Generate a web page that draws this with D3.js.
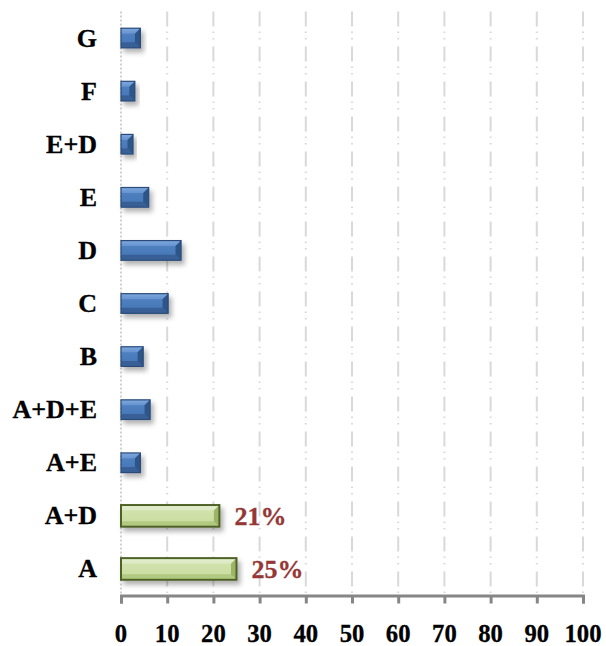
<!DOCTYPE html>
<html>
<head>
<meta charset="utf-8">
<script src="https://cdn.jsdelivr.net/npm/d3@7"></script>
<style>
  body { margin: 0; background: #fff; }
  text { font-family: "Liberation Serif", "Times New Roman", serif; font-weight: bold; }
</style>
</head>
<body>
<div id="chart"></div>
<script>
const categories = ["G", "F", "E+D", "E", "D", "C", "B", "A+D+E", "A+E", "A+D", "A"];
const values = [4.2, 3.0, 2.6, 6.0, 13.0, 10.2, 4.8, 6.3, 4.2, 21.3, 25];
const highlighted = ["A+D", "A"];
const labelTexts = { "A+D": "21%", "A": "25%" };
const xTicks = [0, 10, 20, 30, 40, 50, 60, 70, 80, 90, 100];

const width = 606, height = 646;
const margin = { top: 11.5, right: 23, bottom: 50.5, left: 121 };

const svg = d3.select("#chart").append("svg")
  .attr("width", width)
  .attr("height", height);

const defs = svg.append("defs");

const makeGrad = (id, stops) => {
  const g = defs.append("linearGradient").attr("id", id)
    .attr("x1", 0).attr("y1", 0).attr("x2", 0).attr("y2", 1);
  stops.forEach(([o, c]) => g.append("stop").attr("offset", o).attr("stop-color", c));
};
makeGrad("blueGrad", [["0%", "#5384c4"], ["100%", "#4474b3"]]);
makeGrad("greenGrad", [["0%", "#d3e4af"], ["100%", "#c9dc9f"]]);
makeGrad("blueTop", [["0%", "#7ea8de"], ["100%", "#6592cf"]]);
makeGrad("greenTop", [["0%", "#e6f0d2"], ["100%", "#dbe8c1"]]);

const shadow = defs.append("filter").attr("id", "shadow")
  .attr("x", "-20%").attr("y", "-50%").attr("width", "150%").attr("height", "250%");
shadow.append("feDropShadow")
  .attr("dx", 3).attr("dy", 4).attr("stdDeviation", 2.5)
  .attr("flood-color", "#000").attr("flood-opacity", 0.3);

const x = d3.scaleLinear()
  .domain([0, 100])
  .range([margin.left, width - margin.right]);

const y = d3.scaleBand()
  .domain(categories)
  .range([margin.top, height - margin.bottom])
  .paddingInner(0.63)
  .paddingOuter(0.315);

const axisY = height - margin.bottom;

// gridlines
svg.append("g")
  .selectAll("line")
  .data(xTicks.slice(1))
  .enter()
  .append("line")
  .attr("x1", (d) => x(d))
  .attr("x2", (d) => x(d))
  .attr("y1", margin.top)
  .attr("y2", axisY)
  .attr("stroke", "#d9d9d9")
  .attr("stroke-width", 2)
  .style("stroke-dasharray", "15,5,1.5,5,1.5,7");

// left dotted line
svg.append("line")
  .attr("x1", x(0)).attr("x2", x(0))
  .attr("y1", margin.top).attr("y2", axisY)
  .attr("stroke", "#d0d0d0")
  .attr("stroke-width", 2)
  .style("stroke-dasharray", "2,2");

// bars
const bars = svg.append("g")
  .selectAll("g")
  .data(categories)
  .enter()
  .append("g")
  .attr("filter", "url(#shadow)");

bars.each(function (c, i) {
  const g = d3.select(this);
  const green = highlighted.includes(c);
  const x0 = x(0), x1 = x(values[i]);
  const h = green ? y.bandwidth() + 2 : y.bandwidth();
  const y0 = y(c) + (y.bandwidth() - h) / 2, y1 = y0 + h;
  const b = Math.min(5.5, (x1 - x0) / 2);
  const edge = green ? "#4f6228" : "#2b4c7a";
  g.append("rect")
    .attr("x", x0).attr("y", y0)
    .attr("width", x1 - x0).attr("height", h)
    .attr("fill", green ? "url(#greenGrad)" : "url(#blueGrad)");
  // top bevel
  g.append("path")
    .attr("d", `M${x0},${y0}L${x1},${y0}L${x1 - b},${y0 + b}L${x0},${y0 + b}Z`)
    .attr("fill", green ? "url(#greenTop)" : "url(#blueTop)");
  // bottom bevel
  g.append("path")
    .attr("d", `M${x0},${y1}L${x1},${y1}L${x1 - b},${y1 - b}L${x0},${y1 - b}Z`)
    .attr("fill", green ? "#b2c981" : "#375f96");
  // right bevel
  g.append("path")
    .attr("d", `M${x1},${y0}L${x1},${y1}L${x1 - b},${y1 - b}L${x1 - b},${y0 + b}Z`)
    .attr("fill", green ? "#9bb466" : "#2d5487");
  g.append("rect")
    .attr("x", x0).attr("y", y0)
    .attr("width", x1 - x0).attr("height", h)
    .attr("fill", "none")
    .attr("stroke", edge)
    .attr("stroke-width", green ? 2 : 1.2);
});

// value labels
svg.append("g")
  .selectAll("text")
  .data(categories.filter((c) => labelTexts[c]))
  .enter()
  .append("text")
  .attr("x", (c) => x(values[categories.indexOf(c)]) + 15)
  .attr("y", (c) => y(c) + y.bandwidth() / 2)
  .attr("dy", "0.35em")
  .attr("fill", "#953735")
  .attr("stroke", "#953735")
  .attr("stroke-width", 0.3)
  .style("font-size", "26px")
  .text((c) => labelTexts[c]);

// category labels
svg.append("g")
  .selectAll("text")
  .data(categories)
  .enter()
  .append("text")
  .attr("transform", (c) => `translate(97,${y(c) + y.bandwidth() / 2}) scale(1.04,1)`)
  .attr("dy", "0.34em")
  .attr("text-anchor", "end")
  .attr("fill", "#000")
  .attr("stroke", "#000")
  .attr("stroke-width", 0.3)
  .style("font-size", "25px")
  .text((c) => c);

// x axis
const xAxis = svg.append("g")
  .attr("transform", `translate(0,${axisY})`)
  .call(d3.axisBottom(x).tickValues(xTicks).tickSize(8).tickSizeOuter(8).tickFormat(() => ""));
xAxis.select(".domain").attr("stroke", "#868686").attr("stroke-width", 3);
xAxis.selectAll(".tick line").attr("stroke", "#868686").attr("stroke-width", 3);

svg.append("g")
  .selectAll("text")
  .data(xTicks)
  .enter()
  .append("text")
  .attr("transform", (d) => `translate(${x(d)},642) scale(0.95,1)`)
  .attr("text-anchor", "middle")
  .attr("fill", "#000")
  .attr("stroke", "#000")
  .attr("stroke-width", 0.3)
  .style("font-size", "26px")
  .text((d) => d);
</script>
</body>
</html>
